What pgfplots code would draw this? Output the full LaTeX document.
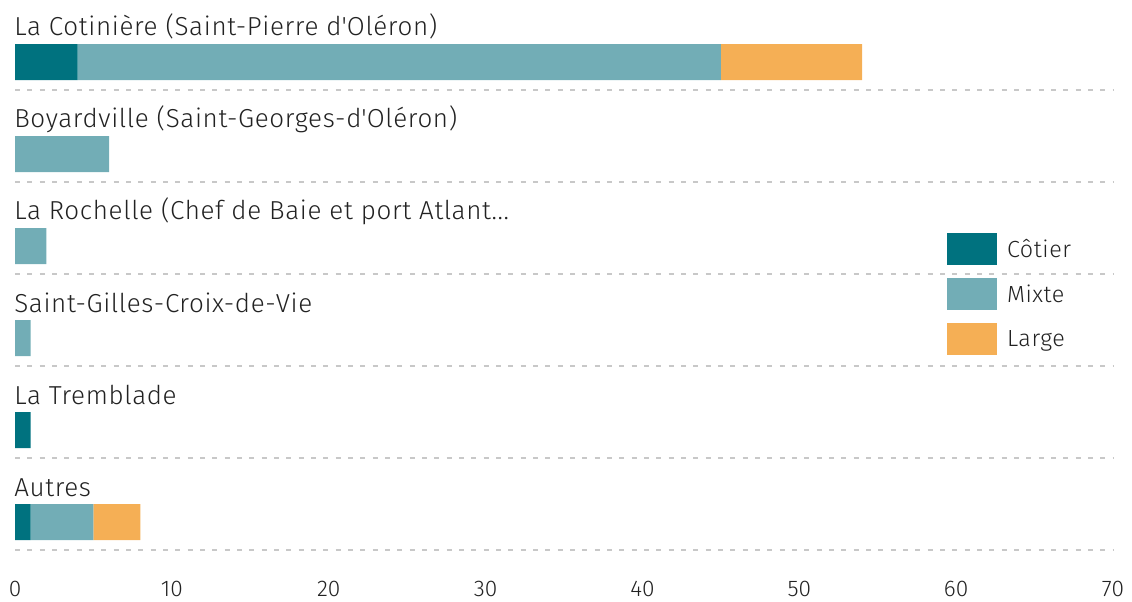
\documentclass[border=0pt]{standalone}
\usepackage{pgfplots}
\pgfplotsset{compat=1.18}
\usepackage{fontspec}
\setmainfont{Fira Sans Light}
\newfontfamily\lblfont{Fira Sans Light}[LetterSpace=2.5]
\definecolor{cotier}{HTML}{00727F}
\definecolor{mixte}{HTML}{72ADB6}
\definecolor{large}{HTML}{F5AF55}
\definecolor{txt}{HTML}{222222}
\definecolor{gridc}{HTML}{C8C8C8}
\pgfplotsset{my legend/.style={legend image code/.code={\fill[##1] (0pt,-12pt) rectangle (37.5pt,12pt);}}}
\begin{document}
\begin{tikzpicture}
\begin{axis}[
  name=ax,
  scale only axis,
  width=823.5pt, height=423.75pt,
  xbar stacked,
  bar width=27pt,
  xmin=0, xmax=70,
  ymin=-0.674, ymax=5.467,
  y dir=reverse,
  xtick={0,10,...,70},
  ytick={0.3,1.3,2.3,3.3,4.3,5.3},
  yticklabels={},
  ymajorgrids,
  major grid style={gridc, line width=1.5pt, dash pattern=on 3.75pt off 5.5pt},
  axis line style={draw=none},
  major tick length=0pt,
  tick style={draw=none},
  /pgf/number format/assume math mode=true,
  xticklabel style={font=\fontsize{17}{20}\selectfont, text=txt, yshift=-8.5pt},
  every axis plot post/.append style={my legend},
  legend style={at={(axis cs:59.4,1.859)}, anchor=north west, draw=none, fill=none,
    inner sep=0pt, row sep=9.75pt, column sep=0pt,
    font=\lblfont\fontsize{17.5}{20}\selectfont, text=txt,
    nodes={inner sep=0pt, anchor=west},
    /tikz/every odd column/.append style={column sep=7.5pt}},
  legend cell align=left,
  clip=false,
]
\addplot[fill=cotier, draw=none] coordinates {(4,0) (0,1) (0,2) (0,3) (1,4) (1,5)};
\addplot[fill=mixte, draw=none] coordinates {(41,0) (6,1) (2,2) (1,3) (0,4) (4,5)};
\addplot[fill=large, draw=none] coordinates {(9,0) (0,1) (0,2) (0,3) (0,4) (3,5)};
\legend{Côtier, Mixte, Large}
\foreach \i/\lab in {0/{La Cotinière (Saint-Pierre d\textquotesingle Oléron)},1/{Boyardville (Saint-Georges-d\textquotesingle Oléron)},2/{La Rochelle (Chef de Baie et port Atlant...},3/{Saint-Gilles-Croix-de-Vie},4/{La Tremblade},5/{Autres}}{
  \edef\temp{\noexpand\node[anchor=base west, inner sep=0pt, xshift=-0.75pt, text=txt, font=\noexpand\lblfont\noexpand\fontsize{19.5}{23}\noexpand\selectfont] at (axis cs:0,\i-0.283) {\unexpanded\expandafter{\lab}};}
  \temp
}
\end{axis}
\pgfresetboundingbox
\path[use as bounding box] ([xshift=-11.25pt]ax.north west) rectangle ([xshift=14.25pt,yshift=-27pt]ax.south east);
\end{tikzpicture}
\end{document}
